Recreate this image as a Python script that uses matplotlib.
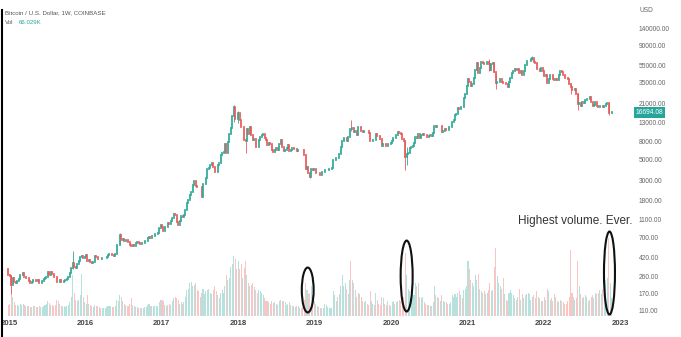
import numpy as np
import pandas as pd
import matplotlib.pyplot as plt
from matplotlib.patches import Ellipse
from matplotlib.lines import Line2D
from matplotlib.transforms import blended_transform_factory

plt.rcParams['font.family'] = ['Liberation Sans', 'DejaVu Sans']

# weekly closes (USD), one list per year, first week starts 2014-12-29
close_2015 = [274, 265, 210, 253, 226, 222, 234, 245, 275, 275, 285, 260, 252, 254,
              236, 222, 226, 242, 241, 237, 240, 225, 225, 233, 245, 250, 260, 292,
              274, 291, 281, 262, 260, 231, 229, 240, 230, 231, 234, 238, 246, 262,
              284, 325, 374, 336, 324, 360, 390, 433, 440, 420, 432]
close_2016 = [448, 388, 400, 378, 373, 380, 437, 432, 410, 412, 410, 416, 418, 421,
              428, 450, 460, 460, 455, 440, 470, 580, 590, 750, 660, 673, 650, 665,
              658, 623, 590, 568, 580, 570, 608, 625, 609, 602, 613, 617, 640, 650,
              700, 710, 700, 730, 735, 765, 768, 790, 890, 960]
close_2017 = [910, 820, 920, 915, 1010, 1000, 1055, 1150, 1270, 1230, 1030, 970, 1080,
              1200, 1180, 1250, 1420, 1700, 1800, 2050, 2200, 2650, 2950, 2600, 2550,
              2500, 2500, 1950, 2750, 2750, 3200, 4000, 4050, 4350, 4600, 4200, 3700,
              3650, 4350, 4600, 5650, 6000, 6150, 7400, 5900, 7800, 9700, 11300, 15100,
              19100, 14000, 13900]
close_2018 = [16500, 13600, 11500, 11500, 8200, 8100, 11000, 9600, 11500, 9500, 8200,
              8400, 6950, 6900, 8300, 8900, 9400, 9600, 8700, 8200, 7350, 7700, 7500,
              6500, 6150, 6350, 6750, 6350, 7400, 8200, 7000, 6300, 6400, 6700, 7200,
              6250, 6500, 6700, 6600, 6600, 6300, 6450, 6450, 6400, 6350, 5600, 4000,
              4150, 3600, 3250, 3950, 3850, 4000]
close_2019 = [3550, 3600, 3550, 3450, 3650, 3650, 3850, 3850, 3900, 4000, 4000, 4100,
              5050, 5050, 5300, 5250, 5800, 7000, 8000, 8700, 8700, 8000, 8950, 11000,
              10800, 11200, 10200, 10350, 9500, 11500, 11400, 10300, 10150, 10350, 10400,
              10300, 9950, 8050, 8150, 8300, 8200, 9550, 9200, 9050, 8500, 7050, 7550,
              7500, 7100, 7500, 7400, 7750]
close_2020 = [8100, 8700, 8600, 9300, 10150, 9900, 9700, 8550, 8000, 5350, 5850, 5900,
              6800, 6900, 7100, 7700, 8900, 8750, 9700, 8700, 9450, 9700, 9350, 9300,
              9000, 9100, 9300, 9200, 9950, 11800, 11600, 11900, 11700, 11700, 10250,
              10350, 10950, 10750, 10650, 11350, 11500, 13100, 13750, 15500, 16050,
              18700, 18200, 19150, 18800, 23800, 26450, 32000]
close_2021 = [38200, 36000, 32100, 34300, 39300, 48600, 57500, 45200, 51000, 59000,
              57600, 55800, 57100, 60000, 56200, 49000, 56600, 58200, 46400, 34700,
              35700, 35800, 39100, 35600, 34700, 35300, 34200, 31800, 35400, 39800,
              44600, 47000, 49300, 48800, 49900, 45100, 47300, 42800, 47700, 54900,
              60900, 61300, 61300, 63300, 65500, 59700, 57300, 49400, 50100, 46700,
              50800, 47300]
close_2022 = [41800, 43100, 35100, 38200, 42400, 42200, 38400, 37700, 38800, 37800,
              42200, 46800, 46400, 42200, 39700, 39500, 38500, 34300, 31300, 29400,
              29450, 29900, 26600, 20600, 21000, 19300, 21600, 20800, 22600, 23300,
              23200, 24300, 21500, 19600, 19800, 21800, 19400, 18800, 19300, 19400,
              19200, 19600, 20600, 21200, 16300, 16300, 16694.08]

# weekly volume (K BTC)
vol_2015 = [40, 45, 100, 70, 50, 42, 40, 38, 45, 42, 45, 40, 38, 36, 35, 34, 33, 38,
            36, 34, 33, 35, 33, 34, 36, 40, 45, 55, 48, 42, 40, 38, 40, 60, 55, 45,
            38, 36, 35, 34, 36, 40, 50, 70, 150, 85, 60, 55, 60, 75, 155, 70, 50]
vol_2016 = [45, 75, 45, 40, 35, 33, 40, 38, 35, 33, 30, 30, 30, 30, 32, 35, 38, 36,
            34, 33, 38, 60, 55, 75, 70, 55, 45, 40, 38, 36, 45, 65, 40, 35, 33, 32,
            30, 30, 30, 31, 32, 34, 40, 45, 38, 36, 35, 38, 36, 38, 50, 60]
vol_2017 = [60, 55, 40, 35, 40, 45, 40, 55, 65, 70, 65, 60, 45, 50, 45, 50, 70, 95,
            100, 120, 125, 110, 115, 120, 95, 90, 70, 85, 100, 80, 90, 95, 100, 85,
            80, 95, 110, 90, 75, 65, 85, 95, 85, 110, 150, 130, 140, 180, 190, 220,
            210, 170]
vol_2018 = [200, 170, 190, 140, 175, 200, 150, 120, 110, 115, 120, 105, 95, 85, 95,
            90, 85, 75, 65, 55, 55, 50, 45, 55, 48, 50, 45, 40, 55, 60, 55, 55, 50,
            40, 45, 50, 40, 38, 36, 32, 35, 38, 30, 30, 32, 60, 120, 95, 80, 85, 110,
            75, 55]
vol_2019 = [45, 35, 32, 30, 30, 30, 45, 40, 32, 30, 30, 28, 90, 75, 55, 70, 80, 110,
            148, 110, 120, 100, 80, 130, 200, 130, 120, 95, 70, 85, 80, 70, 55, 50,
            55, 45, 40, 90, 55, 45, 40, 85, 60, 45, 40, 70, 65, 45, 40, 55, 40, 38]
vol_2020 = [50, 55, 45, 50, 55, 60, 55, 65, 70, 230, 150, 100, 90, 80, 70, 75, 120,
            110, 120, 70, 65, 70, 50, 45, 42, 40, 38, 35, 50, 110, 75, 70, 65, 55, 75,
            55, 50, 50, 45, 45, 50, 75, 70, 80, 70, 85, 90, 75, 65, 95, 100, 110]
vol_2021 = [200, 170, 130, 120, 110, 150, 130, 155, 100, 90, 85, 90, 80, 85, 95, 120,
            90, 95, 180, 250, 145, 120, 110, 100, 140, 80, 60, 55, 85, 95, 85, 75, 65,
            60, 70, 100, 60, 80, 65, 75, 80, 85, 80, 60, 70, 75, 65, 90, 70, 65, 55, 55]
vol_2022 = [70, 60, 100, 90, 60, 65, 55, 80, 70, 55, 50, 60, 55, 50, 45, 45, 55, 70,
            240, 85, 70, 60, 65, 200, 110, 80, 65, 70, 75, 70, 55, 60, 70, 75, 65, 85,
            80, 85, 95, 80, 100, 90, 130, 140, 285, 120, 66.029]

# notable weekly wicks: (week index, low, high)
wicks = [(2, 170, 275), (44, 320, 500), (76, 600, 780), (154, 13000, 19800),
         (157, 12800, 17200), (162, 6000, 8500), (206, 3150, 3600),
         (234, 10300, 13800), (271, 3850, 8000), (272, 4400, 6900),
         (328, 47000, 64800), (332, 46000, 59500), (333, 30000, 43500),
         (358, 62000, 69000), (384, 26700, 35000), (389, 17600, 26800),
         (410, 15600, 21400)]

first_open = 320
price_ticks = [110, 170, 260, 420, 700, 1100, 1800, 3000, 5000, 8000, 13000, 21000,
               35000, 55000, 90000, 140000]
years = [2015, 2016, 2017, 2018, 2019, 2020, 2021, 2022, 2023]

close = np.array(close_2015 + close_2016 + close_2017 + close_2018 + close_2019
                 + close_2020 + close_2021 + close_2022, dtype=float)
vol = np.array(vol_2015 + vol_2016 + vol_2017 + vol_2018 + vol_2019
               + vol_2020 + vol_2021 + vol_2022, dtype=float)
opn = np.concatenate([[first_open], close[:-1]])
dates = pd.date_range('2014-12-29', periods=len(close), freq='7D')
t = np.asarray(dates.year + (dates.dayofyear - 1) / 365.25)
up = close >= opn

W, H = 681, 337
fig = plt.figure(figsize=(W / 100, H / 100), dpi=100)
pos = [0, (H - 316) / H, 633 / W, 311 / H]
xlim = (2014.882, 2023.168)

# volume layer (behind)
axv = fig.add_axes(pos)
vcol = np.where(up[:, None], [[38/255, 166/255, 154/255, 0.33]],
                [[239/255, 83/255, 80/255, 0.33]])
axv.bar(t, vol, width=0.0135, color=vcol, linewidth=0)
axv.set_xlim(*xlim)
axv.set_ylim(0, 1136)
axv.axis('off')

# price layer
ax = fig.add_axes(pos)
ax.patch.set_visible(False)
ccol = np.where(up, '#2ea996', '#e85a58')
wi = [w[0] for w in wicks]
ax.vlines(t[wi], [w[1] for w in wicks], [w[2] for w in wicks], colors=ccol[wi],
          linewidth=0.6)
lo = np.minimum(opn, close)
hi = np.maximum(opn, close)
ax.vlines(t, lo, hi, colors=ccol, linewidth=1.25, capstyle='projecting')
ax.set_yscale('log')
ax.set_ylim(96.9, 250500)
ax.set_xlim(*xlim)
for s in ax.spines.values():
    s.set_visible(False)
ax.yaxis.tick_right()
ax.set_yticks(price_ticks)
ax.set_yticklabels([f'{v:.2f}' for v in price_ticks])
ax.minorticks_off()
ax.tick_params(axis='y', length=0, pad=4.3, labelsize=4.8, labelcolor='#666666')
ax.set_xticks(years)
ax.set_xticklabels([str(y) for y in years], fontweight='bold')
ax.tick_params(axis='x', length=0, pad=3.0, labelsize=5.6, labelcolor='#444444')

# last price tag
bt = blended_transform_factory(ax.transAxes, ax.transData)
ax.text(1.004, close[-1], f'{close[-1]:.2f}', transform=bt, ha='left', va='center',
        fontsize=4.8, color='white',
        bbox=dict(boxstyle='square,pad=0.3', fc='#26a69a', ec='none'))

fig.text(640 / W, 1 - 11 / H, 'USD', fontsize=4.8, color='#666666', va='center')
fig.text(5 / W, 1 - 13 / H, 'Bitcoin / U.S. Dollar, 1W, COINBASE', fontsize=4.4,
         color='#555555', va='center')
fig.text(5 / W, 1 - 23 / H, 'Vol', fontsize=4.4, color='#555555', va='center')
fig.text(19 / W, 1 - 23 / H, '66.029K', fontsize=4.4, color='#26a69a', va='center')

# annotations on the volume layer
for cx, cy, w, h in [(2018.91, 95, 0.155, 164), (2020.205, 146, 0.157, 259),
                     (2022.86, 157, 0.144, 303)]:
    axv.add_patch(Ellipse((cx, cy), w, h, fill=False, ec='#111111', lw=1.5,
                          clip_on=False))
axv.text(2021.66, 347, 'Highest volume. Ever.', fontsize=8.5, color='#333333',
         va='center', ha='left')

fig.add_artist(Line2D([1.5 / W, 1.5 / W], [0, 1 - 10 / H], color='black', lw=1.5))

fig.savefig('out.png', dpi=100)
